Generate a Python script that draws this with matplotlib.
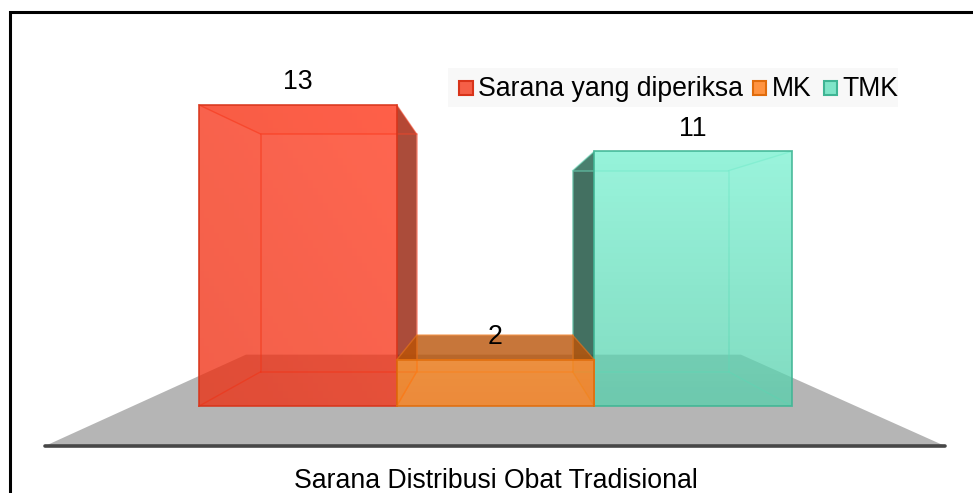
import numpy as np
import matplotlib
matplotlib.use('Agg')
import matplotlib.pyplot as plt
from matplotlib.colors import to_rgb
from matplotlib.patches import Polygon, Rectangle

plt.rcParams['font.family'] = ['Liberation Sans', 'DejaVu Sans']

# Data
categories = ['Sarana yang diperiksa', 'MK', 'TMK']
values = [13, 2, 11]
axis_title = 'Sarana Distribusi Obat Tradisional'

# Colours for each bar
face_a = ['#EE2A0C', '#FF7D11', '#56D0AC']  # front face, low end
face_b = ['#FF3316', '#FF8418', '#78F0D0']  # front face, high end
legend_fill = ['#F55F47', '#FF9340', '#7FE5C8']
edge = ['#D8341A', '#E06C0C', '#3FB594']
inner = ['#F2462A', '#F07A1E', '#6FE0C0']
side = ['#961F08', '#B85A10', '#144C3A']
W, H = 973, 493

# One bar unit in pixels
unit_x = 197.5
unit_y = 23.15
x0_px, y0_px = 298, 406

fig = plt.figure(figsize=(W / 100, H / 100), dpi=100)
ax = fig.add_axes([0, 0, 1, 1])
ax.axis('off')

# Perspective: points move toward the vanishing point as they go back
vp_x = (491.5 - x0_px) / unit_x
vp_y = (y0_px - 243) / unit_y
depth = 0.79


def back(x, y, s=depth):
    return vp_x + s * (x - vp_x), vp_y + s * (y - vp_y)


def px(x, y):
    return (x - x0_px) / unit_x, (y0_px - y) / unit_y


# Floor
f_l, f_r, f_y = px(45, 446)[0], px(945, 446)[0], px(45, 446)[1]
bl = back(f_l, f_y, 0.55)
br = back(f_r, f_y, 0.55)
ax.add_patch(Polygon([(f_l, f_y), (f_r, f_y), br, bl], fc='#B5B5B5', ec='none', zorder=1))
ax.plot([f_l, f_r], [f_y, f_y], color='#474747', lw=2.6, solid_capstyle='round', zorder=1.5)

mk = categories.index('MK')
mk_top = values[mk]

# orange last so it sits over the dark sides of its neighbours
for i in [0, 2, 1]:
    v = values[i]
    z = 2 + (i == mk) * 2
    l, r = i - 0.5, i + 0.5
    fl_b, fr_b = (l, 0), (r, 0)
    fl_t, fr_t = (l, v), (r, v)
    bl_b, br_b, bl_t, br_t = back(l, 0), back(r, 0), back(l, v), back(r, v)

    # side faces, the darker one faces the middle bar
    if i == mk:
        for poly in ([fl_b, fl_t, bl_t, bl_b], [fr_b, fr_t, br_t, br_b]):
            ax.add_patch(Polygon(poly, fc=side[i], ec='none', alpha=0.16, zorder=z + 0.1))
    else:
        dark = [fr_b, fr_t, br_t, br_b] if i == 0 else [fl_b, fl_t, bl_t, bl_b]
        p = Polygon(dark, fc=side[i], ec='none', alpha=0.8, zorder=z + 0.1)
        ax.add_patch(p)
        # behind the orange front the dark side is hardly seen
        p.set_clip_path(Rectangle((-2, mk_top), 4, 20, transform=ax.transData))

    # top face
    if i == mk:
        ax.add_patch(Polygon([fl_t, fr_t, br_t, bl_t], fc='#BA5408', ec='none', alpha=0.8, zorder=z + 0.2))
    else:
        ax.add_patch(Polygon([fl_t, fr_t, br_t, bl_t], fc=face_b[i], ec='none', alpha=0.12, zorder=z + 0.2))

    # inner edges
    ax.plot([bl_b[0], br_b[0], br_t[0], bl_t[0], bl_b[0]],
            [bl_b[1], br_b[1], br_t[1], bl_t[1], bl_b[1]],
            color=inner[i], lw=1.1, alpha=0.55, zorder=z + 0.3)
    for a, b in [(fl_b, bl_b), (fr_b, br_b), (fl_t, bl_t), (fr_t, br_t)]:
        ax.plot([a[0], b[0]], [a[1], b[1]], color=inner[i], lw=1.0, alpha=0.55, zorder=z + 0.3)

    # front face with a soft gradient
    n = 40
    gx, gy = np.meshgrid(np.linspace(0, 1, n), np.linspace(0, 1, n))
    t = (0.5 * gx + 0.5 * gy)[..., None] if i == 0 else gy[..., None]
    c1 = np.array(to_rgb(face_a[i]))
    c2 = np.array(to_rgb(face_b[i]))
    img = np.dstack([c1 + (c2 - c1) * t, np.full((n, n), 0.75)])
    ax.imshow(img, extent=[l, r, 0, v], origin='lower', aspect='auto', zorder=z + 0.4)
    ax.plot([l, l, r, r, l], [0, v, v, 0, 0], color=edge[i], lw=1.3, alpha=0.85, zorder=z + 0.6,
            solid_joinstyle='miter')

    # value label
    ax.text(i, v + 0.98, str(v), ha='center', va='center', fontsize=19.2, color='black', zorder=6)

ax.set_xlim(-x0_px / unit_x, (W - x0_px) / unit_x)
ax.set_ylim((y0_px - H) / unit_y, y0_px / unit_y)

# Axis title
ax.text(*px(495.5, 480.5), axis_title, ha='center', va='center', fontsize=19.2, color='black', zorder=6)

# Legend, drawn in figure pixels
fig.add_artist(Rectangle((448 / W, 1 - 107 / H), 450 / W, 39 / H, transform=fig.transFigure,
                         fc='#F8F8F8', ec='none', zorder=5))
legend_swatch = [459, 752.5, 823.5]
legend_text = [478, 772, 842]
for i, name in enumerate(categories):
    fig.add_artist(Rectangle((legend_swatch[i] / W, 1 - 94.5 / H), 13.5 / W, 13.5 / H, transform=fig.transFigure,
                             fc=legend_fill[i], ec=edge[i], lw=1.5, zorder=6))
    fig.text(legend_text[i] / W, 1 - 89 / H, name, ha='left', va='center', fontsize=19.2, zorder=7)

# Outer border, only the left and top lines are in frame
fig.add_artist(plt.Line2D([9.5 / W, 9.5 / W, 1.0], [0, 1 - 12 / H, 1 - 12 / H], transform=fig.transFigure,
                          color='black', lw=2.2, solid_joinstyle='miter', zorder=8))

fig.savefig('out.png', dpi=100)
